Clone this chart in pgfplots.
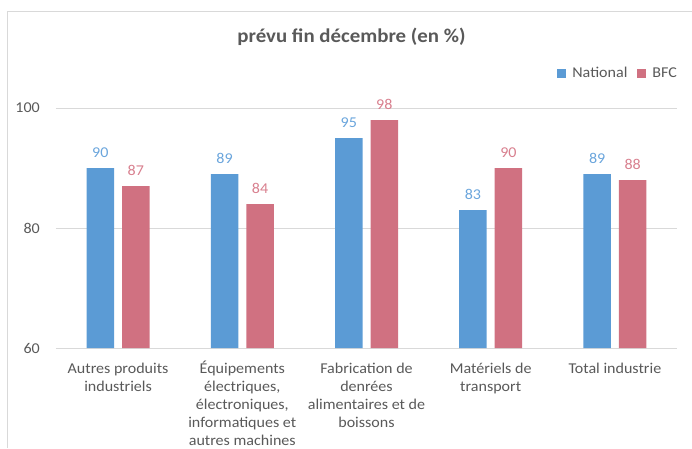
\documentclass[border=0pt]{standalone}
\usepackage{fontspec}
\setmainfont{Carlito}[FakeStretch=1.07]
\usepackage{pgfplots}
\pgfplotsset{compat=1.18}
\definecolor{nat}{HTML}{5B9BD5}
\definecolor{bfc}{HTML}{D07181}
\definecolor{natl}{HTML}{6AA5DC}
\definecolor{bfcl}{HTML}{D87F8E}
\definecolor{txt}{HTML}{595959}
\definecolor{grd}{HTML}{D9D9D9}
\begin{document}
\begin{tikzpicture}
\path[use as bounding box] (-56pt,-100pt) rectangle (636pt,348pt);
\draw[grd, line width=1pt] (-48pt,-100pt) -- (-48pt,336pt) -- (636pt,336pt);
\begin{axis}[
  at={(0pt,0pt)}, anchor=south west,
  scale only axis, width=621pt, height=240pt,
  xmin=-0.5, xmax=4.5, ymin=60, ymax=100,
  ytick={60,80,100},
  xtick=data,
  xticklabels={{\strut Autres produits\\industriels},
               {\strut Équipements\\électriques,\\électroniques,\\informatiques et\\autres machines},
               {\strut Fabrication de\\denrées\\alimentaires et de\\boissons},
               {\strut Matériels de\\transport},
               {\strut Total industrie}},
  ymajorgrids, grid style={grd, line width=1pt},
  axis line style={draw=none},
  major tick length=0pt,
  tick label style={font=\fontsize{15}{18}\selectfont, text=txt},
  /pgf/number format/assume math mode=true,
  yticklabel style={anchor=east, inner sep=0pt, xshift=-16pt},
  xticklabel style={anchor=north, inner sep=0pt, yshift=-12.4pt, align=center},
  ybar, bar width=27.5pt,
  clip mode=individual,
  nodes near coords,
  nodes near coords style={font=\fontsize{15}{18}\selectfont, anchor=south, inner sep=0pt, yshift=10pt},
  legend image code/.code={\fill[#1] (0pt,-4.5pt) rectangle (9pt,4.5pt);},
  legend columns=2,
  legend style={at={(1,1)}, anchor=east, xshift=2pt, yshift=35pt, draw=none, fill=none,
    inner sep=0pt, outer sep=0pt, font=\fontsize{15}{18}\selectfont, text=txt,
    /tikz/every odd column/.append style={column sep=4pt},
    /tikz/every even column/.append style={column sep=8pt}},
]
\addplot[fill=nat, draw=none, bar shift=-17.75pt,
  every node near coord/.append style={text=natl}]
  coordinates {(0,90) (1,89) (2,95) (3,83) (4,89)};
\addlegendentry{National}
\addplot[fill=bfc, draw=none, bar shift=17.75pt,
  every node near coord/.append style={text=bfcl}]
  coordinates {(0,87) (1,84) (2,98) (3,90) (4,88)};
\addlegendentry{BFC}
\end{axis}
\node[font=\fontsize{19.5}{23}\selectfont\bfseries, text=txt] at (295.5pt,311pt) {prévu fin décembre (en \%)};
\end{tikzpicture}
\end{document}
